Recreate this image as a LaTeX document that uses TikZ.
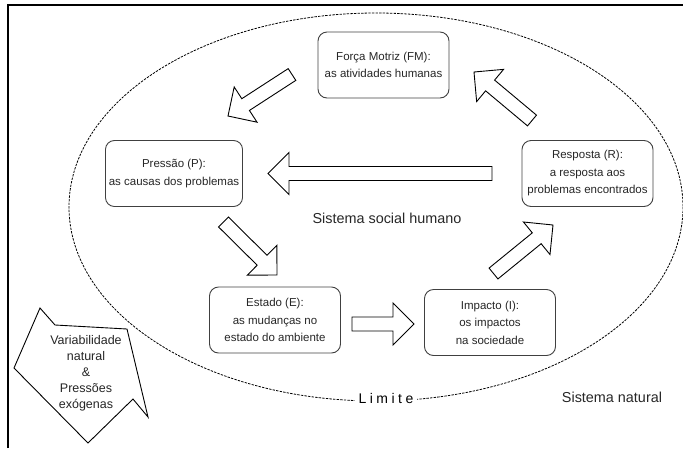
\documentclass[tikz,border=0pt]{standalone}
\usepackage{fontspec}
\setmainfont{Liberation Sans}
\usetikzlibrary{calc,positioning}
\tikzset{>=latex}
\tikzset{
  stage/.style={draw=black!75,line width=0.9pt,rounded corners=9pt,
    minimum width=131pt,minimum height=66pt,align=center,
    font=\fontsize{11.5}{17.5}\selectfont,text=black!85},
  fatarrow/.style={draw,line width=0.9pt,fill=white,line join=miter},
  limit/.style={draw,dash pattern=on 2.4pt off 1.2pt,line width=0.8pt},
  biglabel/.style={font=\fontsize{14.4}{17}\selectfont,text=black!85},
}
% fat block arrow from tail (#1) to tip (#2)
\newcommand{\fatarrow}[2]{%
  \path ($(#2)!21pt!(#1)$) coordinate (fa-b);
  \draw[fatarrow] ($(#1)!7pt!90:(#2)$) -- ($(fa-b)!7pt!90:(#2)$)
    -- ($(fa-b)!21pt!90:(#2)$) -- (#2) -- ($(fa-b)!21pt!-90:(#2)$)
    -- ($(fa-b)!7pt!-90:(#2)$) -- ($(#1)!7pt!-90:(#2)$) -- cycle;
}

\begin{document}
\begin{tikzpicture}[x=1pt,y=-1pt]
  \useasboundingbox (0,0) rectangle (683,448);
  % Frame
  \draw[line width=1.2pt] (8,448) -- (8,5) -- (683,5);

  % Boundary
  \draw[limit] (376,207) ellipse [x radius=307, y radius=194];
  \node[fill=white,inner sep=4pt,font=\fontsize{14}{16}\selectfont\addfontfeature{LetterSpace=25}]
    (limite) at (386,398) {Limite};

  % Stages
  \node[stage] (fm) at (383.5,65) {Força Motriz (FM):\\as atividades humanas};
  \node[stage] (p) at (174,173.5) {Pressão (P):\\as causas dos problemas};
  \node[stage] (r) at (587.5,173.5) {Resposta (R):\\a resposta aos\\problemas encontrados};
  \node[stage] (e) at (275,320) {Estado (E):\\as mudanças no\\estado do ambiente};
  \node[stage] (i) at (490,322.5) {Impacto (I):\\os impactos\\na sociedade};

  % Arrow ends
  \coordinate (fmp-t) at (292,74.5);
  \coordinate (fmp-h) at (228,116);
  \coordinate (pe-t) at (223.5,222);
  \coordinate (pe-h) at (277,275);
  \coordinate (ei-t) at (352,324);
  \coordinate (ei-h) at (414,324);
  \coordinate (ir-t) at (493.5,273.5);
  \coordinate (ir-h) at (553,225);
  \coordinate (rfm-t) at (532,120.5);
  \coordinate (rfm-h) at (474,72);
  \coordinate (rp-t) at (492,173.5);
  \coordinate (rp-h) at (268,173.5);

  % Arrows
  \fatarrow{fmp-t}{fmp-h}
  \fatarrow{pe-t}{pe-h}
  \fatarrow{ei-t}{ei-h}
  \fatarrow{ir-t}{ir-h}
  \fatarrow{rfm-t}{rfm-h}
  \fatarrow{rp-t}{rp-h}

  % Outside pressure
  \draw[fatarrow] (40,308) -- (55,325) -- (127,329) -- (148,417) -- (133,399)
    -- (88,443) -- (14,368) -- cycle;
  \node[align=center,font=\fontsize{12.5}{16}\selectfont,text=black!85] (var) at (86,373.5)
    {Variabilidade\\natural\\\&\\Pressões\\exógenas};

  % Labels
  \node[biglabel] (social) at (387,218) {Sistema social humano};
  \node[biglabel] (natural) at (612,397) {Sistema natural};
\end{tikzpicture}
\end{document}
